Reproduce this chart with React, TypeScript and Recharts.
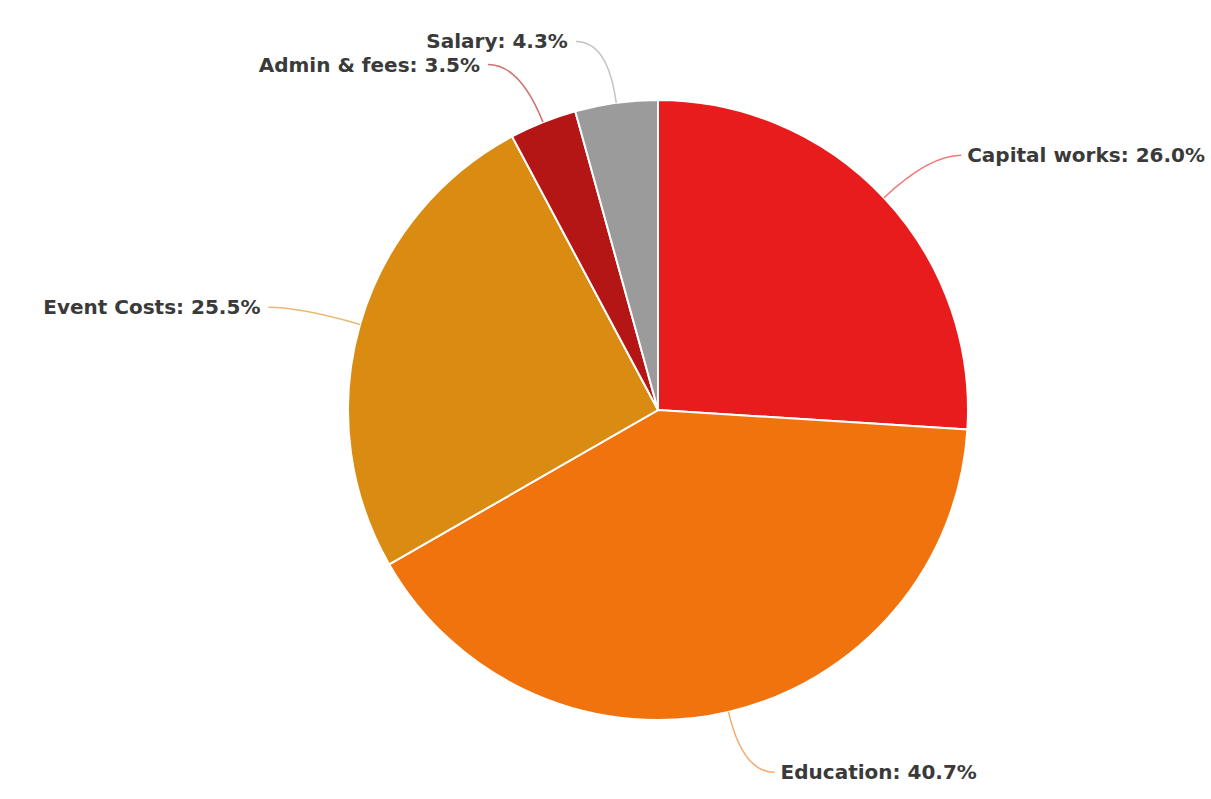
import React from 'react';
import { PieChart, Pie, Cell } from 'recharts';

const CATEGORIES = ['Capital works', 'Education', 'Event Costs', 'Admin & fees', 'Salary'];
const SHARES = [26.0, 40.7, 25.5, 3.5, 4.3];
const SLICE_COLORS = ['#e81b1d', '#f0730e', '#d98b12', '#b41515', '#9b9b9b'];

const data = CATEGORIES.map((name, i) => ({ name, value: SHARES[i] }));

const RADIAN = Math.PI / 180;

const renderLabel = (props: any) => {
  const { cx, cy, midAngle, outerRadius, name, value, index } = props;
  const cos = Math.cos(-midAngle * RADIAN);
  const sin = Math.sin(-midAngle * RADIAN);
  const sx = cx + outerRadius * cos;
  const sy = cy + outerRadius * sin;
  const mx = cx + (outerRadius + 62) * cos;
  const my = cy + (outerRadius + 62) * sin;
  const right = cos >= 0;
  const ex = mx + (right ? 1 : -1) * 32;
  const ey = my;
  return (
    <g>
      <path
        d={`M${sx},${sy} Q${mx},${my} ${ex},${ey}`}
        stroke={SLICE_COLORS[index]}
        strokeOpacity={0.6}
        strokeWidth={1.5}
        fill="none"
      />
      <text
        x={ex + (right ? 6 : -8)}
        y={ey}
        textAnchor={right ? 'start' : 'end'}
        dominantBaseline="central"
        fill="#3a3a3a"
        fontSize={20}
        fontWeight="bold"
        fontFamily="DejaVu Sans, Verdana, sans-serif"
      >
        {`${name}: ${value.toFixed(1)}%`}
      </text>
    </g>
  );
};

export default function App() {
  return (
    <div style={{ position: 'absolute', left: 0, top: 0, width: 1211, height: 799, background: '#fff' }}>
      <PieChart width={1211} height={799} margin={{ top: 0, right: 0, bottom: 0, left: 0 }}>
        <Pie
          data={data}
          dataKey="value"
          nameKey="name"
          cx={658}
          cy={410}
          outerRadius={310}
          startAngle={90}
          endAngle={-270}
          stroke="#fff"
          strokeWidth={2}
          label={renderLabel}
          labelLine={false}
          isAnimationActive={false}
        >
          {data.map((entry, i) => (
            <Cell key={`cell-${i}`} fill={SLICE_COLORS[i]} />
          ))}
        </Pie>
      </PieChart>
    </div>
  );
}
